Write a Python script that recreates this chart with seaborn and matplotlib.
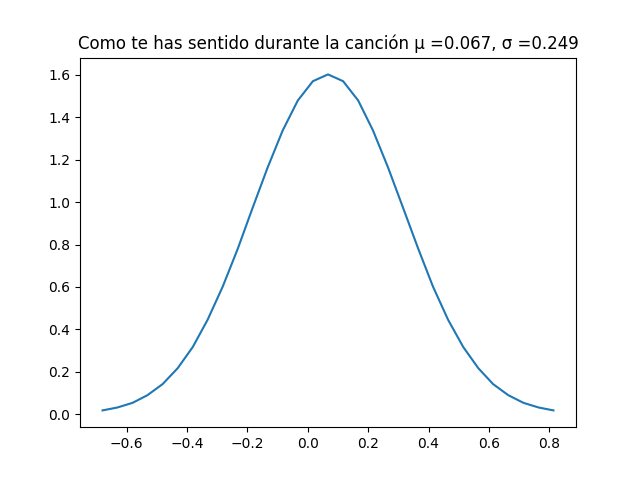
import matplotlib
matplotlib.use("Agg")
import matplotlib.pyplot as plt
import seaborn as sns
import pandas as pd

x_vals = [-0.680, -0.630, -0.580, -0.531, -0.481, -0.431, -0.381, -0.332, -0.282, -0.232,
          -0.183, -0.133, -0.083, -0.033, 0.017, 0.067, 0.117, 0.167, 0.216, 0.266,
          0.316, 0.366, 0.415, 0.465, 0.515, 0.565, 0.614, 0.664, 0.714, 0.764, 0.814]
half = [0.018, 0.032, 0.054, 0.090, 0.142, 0.217, 0.317, 0.445, 0.601, 0.780,
        0.972, 1.163, 1.338, 1.479, 1.570]
y_vals = half + [1.602] + half[::-1]
title = "Como te has sentido durante la canción μ =0.067, σ =0.249"

df = pd.DataFrame({"x": x_vals, "y": y_vals})
fig, ax = plt.subplots(figsize=(6.4, 4.8), dpi=100)
sns.lineplot(data=df, x="x", y="y", ax=ax, color="#1f77b4")
ax.set_title(title)
ax.set_xlabel("")
ax.set_ylabel("")
fig.savefig("out.png")
